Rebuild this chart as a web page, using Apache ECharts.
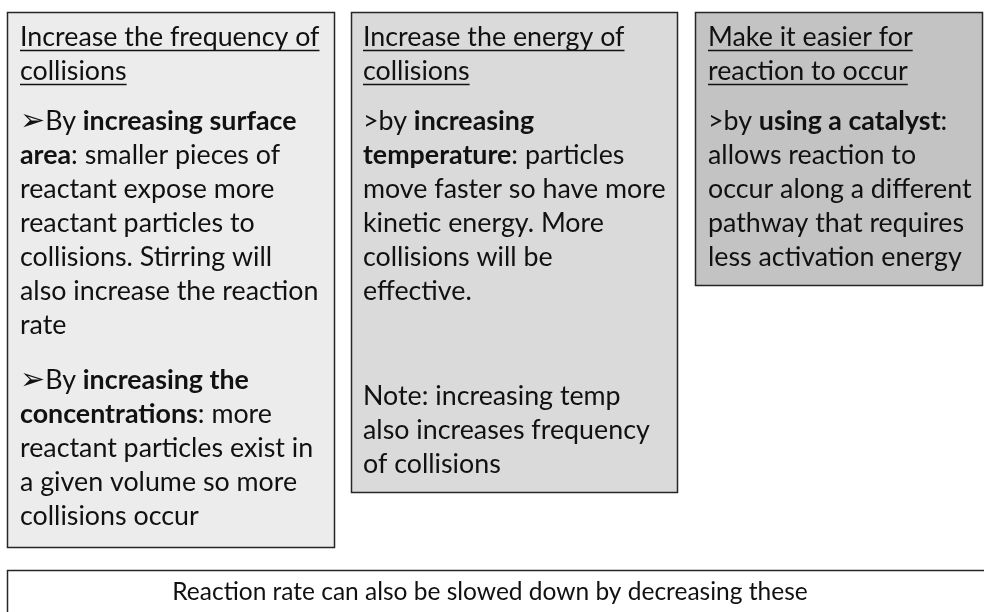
<!DOCTYPE html>
<html>
<head>
<meta charset="utf-8">
<script src="https://cdn.jsdelivr.net/npm/echarts@6/dist/echarts.min.js"></script>
<style>
  html, body { margin: 0; padding: 0; background: #fff; }
  #main { width: 984px; height: 612px; }
</style>
</head>
<body>
<div id="main"></div>
<script>
// texte des cases, une ligne par entrée ; {b|...} = gras, {a|...} = puce flèche
const freqTitle = ['Increase the frequency of', 'collisions'];
const freqSurface = ['{a|➢}By {b|increasing surface}', '{b|area}: smaller pieces of', 'reactant expose more', 'reactant particles to', 'collisions. Stirring will', 'also increase the reaction', 'rate'];
const freqConc = ['{a|➢}By {b|increasing the}', '{b|concentrations}: more', 'reactant particles exist in', 'a given volume so more', 'collisions occur'];
const energyTitle = ['Increase the energy of', 'collisions'];
const energyTemp = ['>by {b|increasing}', '{b|temperature}: particles', 'move faster so have more', 'kinetic energy. More', 'collisions will be', 'effective.'];
const energyNote = ['Note: increasing temp', 'also increases frequency', 'of collisions'];
const easierTitle = ['Make it easier for', 'reaction to occur'];
const easierCat = ['>by {b|using a catalyst}:', 'allows reaction to', 'occur along a different', 'pathway that requires', 'less activation energy'];
const footNote = ['Reaction rate can also be slowed down by decreasing these'];

const FONT = 'Lato, "DejaVu Sans", sans-serif';
const FS = 26.8;       // taille du texte des cases
const FS_FOOT = 24.5;  // texte du bas
const LH = 34;         // interligne
const INK = '#111';

// mesure pour les soulignements
const ctx = document.createElement('canvas').getContext('2d');
function textWidth(str, size) {
  ctx.font = size + 'px ' + FONT;
  return ctx.measureText(str).width;
}

function box(x, y, w, h, fill) {
  return {
    type: 'rect',
    shape: { x: x, y: y, width: w, height: h },
    style: { fill: fill, stroke: '#262626', lineWidth: 1.5 },
    z: 1
  };
}

// une ligne de texte posée sur sa ligne de base
function lines(arr, x, baseline, opts) {
  opts = opts || {};
  const size = opts.size || FS;
  const out = [];
  arr.forEach(function (t, i) {
    const base = baseline + i * LH;
    out.push({
      type: 'text',
      x: x,
      y: base - size * 0.36,
      z: 5,
      style: {
        text: t,
        fill: INK,
        fontFamily: FONT,
        fontSize: size,
        align: opts.align || 'left',
        verticalAlign: 'middle',
        rich: {
          b: { fill: INK, fontFamily: FONT, fontSize: size, fontWeight: 'bold' },
          a: { fill: INK, fontFamily: '"DejaVu Sans", sans-serif', fontSize: size * 1.12, padding: [2, 0, 0, 0] }
        }
      }
    });
    if (opts.underline) {
      const w = textWidth(t, size);
      out.push({
        type: 'line',
        z: 5,
        shape: { x1: x, y1: base + 3.5, x2: x + w, y2: base + 3.5 },
        style: { stroke: INK, lineWidth: 1.4 }
      });
    }
  });
  return out;
}

const chart = echarts.init(document.getElementById('main'), null, { renderer: 'canvas' });

const elements = [].concat(
  box(7.5, 12.5, 327, 535, '#ececec'),
  box(351.5, 12.5, 326, 480, '#dadada'),
  box(695.5, 12.5, 287, 273, '#c3c3c3'),
  box(7.5, 570.5, 1000, 80, '#ffffff'),

  lines(freqTitle, 20, 47, { underline: true }),
  lines(freqSurface, 20, 131),
  lines(freqConc, 20, 390),

  lines(energyTitle, 363, 47, { underline: true }),
  lines(energyTemp, 363, 131),
  lines(energyNote, 363, 406),

  lines(easierTitle, 708, 47, { underline: true }),
  lines(easierCat, 708, 131),

  lines(footNote, 490, 601, { size: FS_FOOT, align: 'center' })
);

chart.setOption({
  backgroundColor: '#ffffff',
  animation: false,
  graphic: { elements: elements }
});

window.addEventListener('resize', function () { chart.resize(); });
</script>
</body>
</html>
